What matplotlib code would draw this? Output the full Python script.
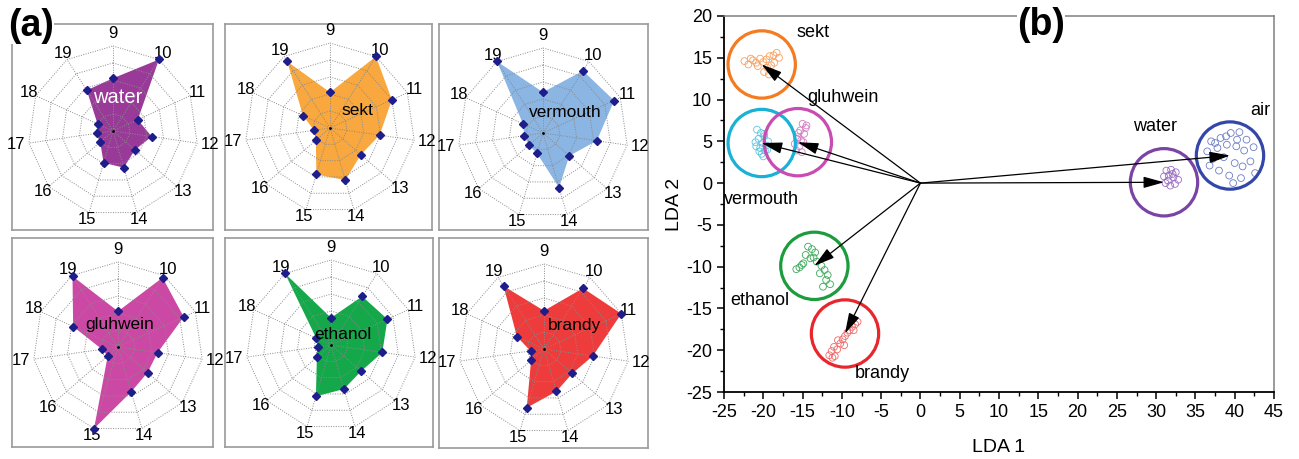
import numpy as np
import matplotlib
matplotlib.use('Agg')
import matplotlib.pyplot as plt
from matplotlib.ticker import MultipleLocator

plt.rcParams['font.family'] = ['Liberation Sans', 'DejaVu Sans']
plt.rcParams['axes.unicode_minus'] = False

# sensor channels around each radar plot (clockwise from the top)
sensors = ['9', '10', '11', '12', '13', '14', '15', '16', '17', '18', '19']

# normalised sensor responses (0-5 scale)
water = [3.1, 5.0, 1.6, 2.3, 1.7, 2.25, 1.95, 1.0, 0.95, 1.0, 2.85]
sekt = [2.1, 5.0, 4.0, 2.95, 2.4, 3.2, 2.85, 1.1, 0.95, 1.75, 4.65]
vermouth = [2.4, 4.35, 4.6, 3.2, 2.05, 3.35, 1.25, 1.1, 1.1, 1.3, 5.0]
gluhwein = [2.1, 4.85, 4.25, 2.35, 2.3, 2.75, 5.0, 0.8, 0.95, 2.9, 4.95]
ethanol = [1.6, 3.4, 3.65, 3.05, 2.35, 2.7, 3.15, 1.1, 0.8, 0.95, 5.0]
brandy = [2.25, 4.25, 5.0, 2.9, 2.2, 2.6, 3.6, 1.0, 0.8, 1.75, 4.4]

# LDA scores, one list per sample class
sekt_x = [-22.4, -21.9, -21.3, -20.9, -20.4, -20.0, -19.6, -19.2, -18.7, -18.3, -18.0, -18.6, -19.5, -19.9, -19.3, -20.7, -21.6, -19.0]
sekt_y = [14.6, 14.2, 14.7, 14.4, 14.9, 14.5, 14.8, 15.2, 15.3, 15.6, 15.0, 14.4, 13.8, 13.3, 13.0, 14.0, 14.9, 14.1]
verm_x = [-20.8, -20.3, -19.9, -20.6, -21.0, -20.1, -19.6, -20.4, -19.8, -20.9, -20.2, -19.4, -20.0, -19.9, -20.5, -19.5]
verm_y = [6.4, 6.0, 5.6, 5.3, 4.9, 4.8, 4.5, 4.2, 3.9, 4.4, 3.5, 5.0, 3.2, 5.9, 3.8, 4.0]
gluh_x = [-15.0, -14.6, -15.3, -14.8, -15.6, -15.2, -16.0, -15.4, -15.8, -15.1, -14.5, -15.5, -14.9, -15.7]
gluh_y = [7.1, 6.6, 6.3, 5.9, 5.5, 5.1, 4.7, 4.4, 3.9, 3.7, 6.9, 6.0, 4.9, 5.3]
eth_x = [-14.3, -13.8, -13.4, -14.6, -14.0, -14.9, -15.4, -15.8, -13.2, -12.6, -12.2, -11.8, -12.0, -11.5, -12.4, -13.6, -15.1, -12.8]
eth_y = [-7.6, -7.9, -8.3, -8.6, -9.0, -9.6, -10.1, -10.3, -9.4, -9.9, -10.4, -11.0, -11.6, -12.1, -12.4, -8.9, -9.8, -10.8]
brandy_x = [-11.6, -11.3, -11.0, -10.6, -10.9, -10.2, -9.9, -9.6, -9.3, -9.0, -8.7, -8.3, -8.0, -10.5, -9.7, -11.2, -8.5]
brandy_y = [-20.6, -20.1, -19.6, -19.9, -20.7, -19.2, -18.7, -18.3, -17.9, -17.6, -17.2, -16.9, -16.6, -18.8, -19.4, -20.9, -17.6]
water_x = [31.3, 31.9, 32.5, 31.0, 31.6, 32.2, 32.8, 31.2, 31.8, 32.4, 31.5, 32.1]
water_y = [1.5, 1.6, 1.3, 0.8, 0.9, 0.7, 0.4, 0.0, -0.3, -0.1, 0.3, 1.1]
air_x = [37.0, 38.2, 39.5, 40.6, 41.5, 36.5, 37.8, 39.0, 40.2, 41.2, 42.4, 37.2, 38.6, 40.0, 41.0, 42.0, 38.0, 39.3, 40.8, 42.6, 36.8, 39.8, 38.9, 40.3, 37.5]
air_y = [5.0, 5.4, 6.0, 6.1, 5.2, 3.8, 4.2, 4.6, 4.4, 3.9, 4.3, 2.9, 3.1, 2.4, 2.0, 2.6, 1.5, 0.9, 0.6, 1.2, 2.1, 0.0, 5.6, 5.2, 4.8]

# class centroids (arrow tips / circle centres)
class_names = ['sekt', 'vermouth', 'gluhwein', 'ethanol', 'brandy', 'water', 'air']
centre_x = [-20.2, -20.2, -15.6, -13.5, -9.6, 31.0, 39.4]
centre_y = [14.2, 4.8, 4.9, -9.9, -18.0, 0.1, 3.3]


def radar(ax, values, colour, name, name_at, name_colour='black', name_size=12.5):
    n = len(sensors)
    ang = np.pi / 2 - 2 * np.pi * np.arange(n) / n
    ca, sa = np.cos(ang), np.sin(ang)
    grid = dict(color='#8a8a8a', lw=0.7, ls=(0, (1, 1.5)), zorder=3)
    for r in range(1, 6):
        ax.plot(np.append(r * ca, r * ca[0]), np.append(r * sa, r * sa[0]), **grid)
    for c, s in zip(ca, sa):
        ax.plot([0, 5 * c], [0, 5 * s], **grid)
    v = np.array(values)
    ax.fill(v * ca, v * sa, color=colour, lw=0, zorder=2)
    ax.plot(v * ca, v * sa, 'D', color='#1d1d8c', ms=4.5, zorder=5)
    ax.plot(0, 0, '.', color='black', ms=2, zorder=4)
    for lab, c, s in zip(sensors, ca, sa):
        r = 5.75 if abs(c) < 0.2 or abs(s) < 0.2 else 5.45
        ax.text(r * c, r * s, lab, ha='center', va='center', fontsize=12)
    ax.text(name_at[0], name_at[1], name, ha='center', va='center',
            fontsize=name_size, color=name_colour, zorder=6)
    ax.set_xticks([])
    ax.set_yticks([])
    for sp in ax.spines.values():
        sp.set_color('#9a9a9a')
        sp.set_linewidth(1.2)


W, H = 1299, 459
fig = plt.figure(figsize=(W / 100, H / 100), dpi=100)

# pixel boxes (left, top, right, bottom) and radar centres
boxes = [(12, 24, 213, 230), (225, 24, 432, 230), (439, 24, 648, 230),
         (12, 238, 213, 447), (225, 238, 433, 447), (439, 238, 648, 448)]
centres = [(113, 131), (330, 128), (543, 133), (118, 347), (331, 345), (544, 349)]
px_per_unit = 17.0

panels = [
    (water, '#993a99', 'water', (0.25, 1.95), 'white', 14.5),
    (sekt, '#f8a83e', 'sekt', (1.6, 1.05), 'black', 12.5),
    (vermouth, '#8bb5e2', 'vermouth', (1.3, 1.2), 'black', 12.5),
    (gluhwein, '#cc48a5', 'gluhwein', (0.1, 1.3), 'black', 12.5),
    (ethanol, '#14a84a', 'ethanol', (0.7, 0.6), 'black', 12.5),
    (brandy, '#ee3b3b', 'brandy', (1.8, 1.4), 'black', 12.5),
]

for (L, T, R, B), (cx, cy), (vals, col, name, at, ncol, nsize) in zip(boxes, centres, panels):
    ax = fig.add_axes([L / W, 1 - B / H, (R - L) / W, (B - T) / H])
    ax.set_xlim((L - cx) / px_per_unit, (R - cx) / px_per_unit)
    ax.set_ylim((cy - B) / px_per_unit, (cy - T) / px_per_unit)
    radar(ax, vals, col, name, at, ncol, nsize)

fig.text(31 / W, 1 - 26 / H, '(a)', fontsize=27, fontweight='bold', ha='center', va='center',
         bbox=dict(facecolor='white', edgecolor='none', pad=0))

# LDA score plot
ax = fig.add_axes([724 / W, 1 - 392 / H, 550 / W, 376 / H])
clusters = [
    (sekt_x, sekt_y, '#f47b20', '#f6a060'),
    (verm_x, verm_y, '#19b1d6', '#5cc4e0'),
    (gluh_x, gluh_y, '#c94cb0', '#d47cc4'),
    (eth_x, eth_y, '#1c9c3c', '#3aa858'),
    (brandy_x, brandy_y, '#e8262b', '#ee6a6a'),
    (water_x, water_y, '#7a44a4', '#9a6cc0'),
    (air_x, air_y, '#3347ab', '#6d7cc4'),
]
for (xs, ys, ring, pts), cx, cy in zip(clusters, centre_x, centre_y):
    ax.scatter(xs, ys, s=24, facecolors='none', edgecolors=pts, linewidths=0.6, zorder=2)
    ax.scatter([cx], [cy], s=2350, facecolors='none', edgecolors=ring, linewidths=2.3, zorder=3)
    ax.annotate('', xy=(cx, cy), xytext=(0, 0), zorder=4,
                arrowprops=dict(arrowstyle='-|>,head_length=0.9,head_width=0.25',
                                color='black', lw=0.9, shrinkA=0, shrinkB=0,
                                mutation_scale=14))

label_at = {'sekt': (-15.8, 18.0), 'gluhwein': (-14.4, 10.3), 'vermouth': (-25.0, -2.0),
            'ethanol': (-24.2, -14.0), 'brandy': (-8.4, -22.8), 'water': (27.0, 6.8),
            'air': (42.0, 8.7)}
for name in class_names:
    x, y = label_at[name]
    ax.text(x, y, name, fontsize=13, ha='left', va='center')

ax.set_xlim(-25, 45)
ax.set_ylim(-25, 20)
ax.xaxis.set_major_locator(MultipleLocator(5))
ax.yaxis.set_major_locator(MultipleLocator(5))
ax.xaxis.set_minor_locator(MultipleLocator(2.5))
ax.yaxis.set_minor_locator(MultipleLocator(2.5))
ax.tick_params(which='major', direction='out', length=5, width=1.1, labelsize=13)
ax.tick_params(which='minor', direction='out', length=3, width=1.0)
for side in ['left', 'bottom']:
    ax.spines[side].set_linewidth(1.3)
for side in ['top', 'right']:
    ax.spines[side].set_color('#808080')
    ax.spines[side].set_linewidth(1.1)
ax.set_xlabel('LDA 1', fontsize=14, labelpad=13)
ax.set_ylabel('LDA 2', fontsize=14, labelpad=2)

fig.text(1041 / W, 1 - 25 / H, '(b)', fontsize=27, fontweight='bold', ha='center', va='center',
         bbox=dict(facecolor='white', edgecolor='none', pad=0))

fig.savefig('out.png', dpi=100)
